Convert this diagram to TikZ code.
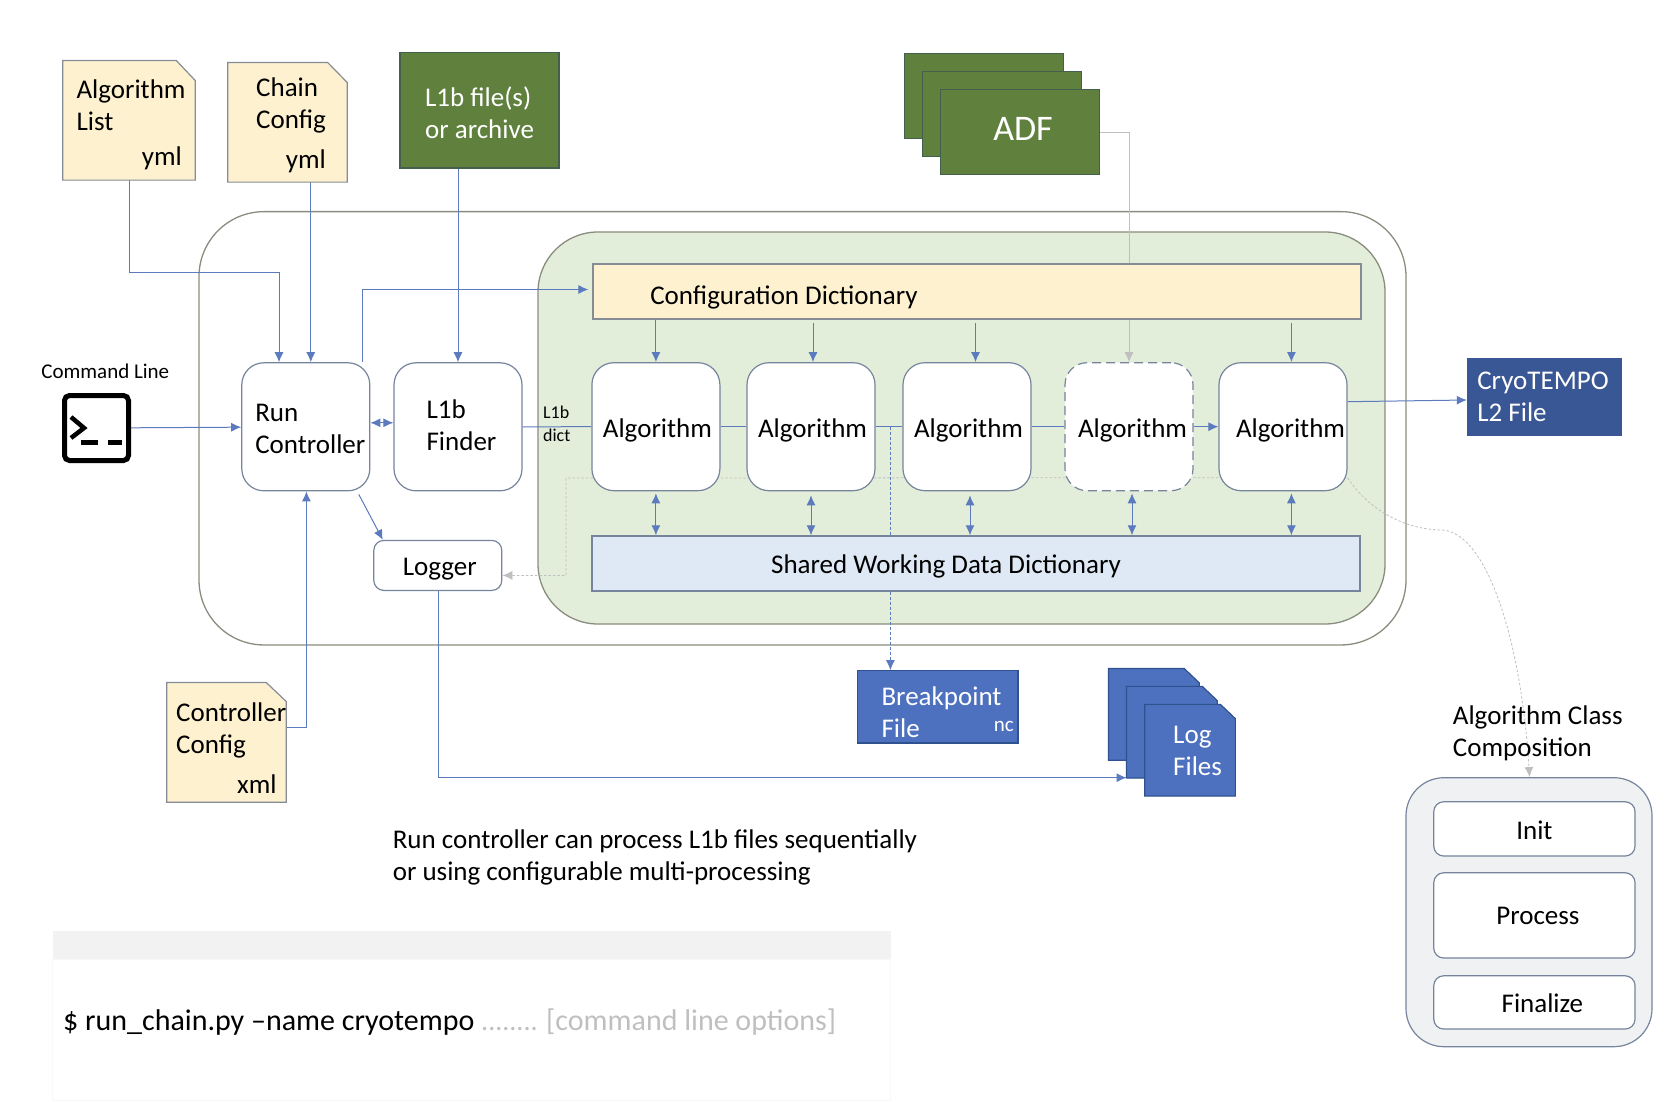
\documentclass[tikz,border=0pt]{standalone}
\usepackage{fontspec}
\setmainfont{Carlito}
\usetikzlibrary{arrows.meta}
\pgfdeclarelayer{back}
\pgfdeclarelayer{wires}
\pgfsetlayers{back,wires,main}
\definecolor{wireblue}{HTML}{5B7BBE}
\definecolor{boxline}{HTML}{76849C}
\definecolor{docline}{HTML}{868C96}
\definecolor{wallline}{HTML}{8A8D7E}
\definecolor{softgrey}{HTML}{BFBFBF}
\definecolor{creamfill}{HTML}{FDF1CF}
\definecolor{greenfill}{HTML}{E3EEDA}
\definecolor{leaf}{HTML}{60803E}
\definecolor{leafline}{HTML}{43604F}
\definecolor{paleblue}{HTML}{DFE9F5}
\definecolor{midblue}{HTML}{4D71BE}
\definecolor{midline}{HTML}{2F528F}
\definecolor{navy}{HTML}{3A5795}
\definecolor{classfill}{HTML}{F0F1F3}
\definecolor{barfill}{HTML}{F2F2F2}
\definecolor{panelline}{HTML}{F8F8F8}
\newcommand{\bodyfont}{\fontsize{27}{32}\selectfont}
\newcommand{\tagfont}{\fontsize{21}{24}\selectfont}
\newcommand{\dictfont}{\fontsize{18}{22.7}\selectfont}
\newcommand{\cmdfont}{\fontsize{30}{32}\selectfont}
% sheet with a folded top right corner, drawn round an empty node
\newcommand{\foldsheet}[4]{\draw[#2] (#1.north west) -- ([xshift=-#3pt]#1.north east) -- ([yshift=-#4pt]#1.north east) -- (#1.south east) -- (#1.south west) -- cycle;}
\tikzset{>={Latex[length=10pt,width=9pt]}}
\tikzset{
  every node/.style={font=\bodyfont,inner sep=0pt,align=left},
  procbox/.style={draw=boxline,line width=1.2pt,fill=white,rounded corners=22pt,minimum width=128pt,minimum height=128pt},
  algobox/.style={procbox,text height=28pt,text depth=6.2pt},
  wall/.style={draw=wallline,line width=1.3pt,rounded corners=#1},
  dictbox/.style={draw=docline,line width=1.3pt,minimum width=768pt,minimum height=55pt},
  docbox/.style={minimum width=119pt,minimum height=119.3pt},
  docsheet/.style={draw=docline,line width=1.2pt,fill=creamfill},
  leafbox/.style={draw=leafline,line width=1.2pt,fill=leaf,text=white,minimum width=158.3pt,minimum height=85pt},
  logbox/.style={minimum width=90.3pt,minimum height=91.3pt},
  logpage/.style={draw=midline,line width=1.2pt,fill=midblue},
  stepbox/.style={draw=boxline,line width=1.2pt,fill=white,rounded corners=10pt,minimum width=201.3pt},
  link/.style={draw=wireblue,line width=1pt},
  greylink/.style={draw=softgrey,line width=1pt},
  greydot/.style={draw=softgrey,line width=.8pt,dash pattern=on 2.5pt off 2pt}
}
\begin{document}
\begin{tikzpicture}[x=1pt,y=-1pt]
\useasboundingbox (0,0) rectangle (1676,1102);
% containers
\begin{pgfonlayer}{back}
\node[wall=65pt,fill=white,minimum width=1207pt,minimum height=433.3pt] (outer) at (802.5,428.3) {};
\node[wall=60pt,fill=greenfill,minimum width=847pt,minimum height=392pt] (inner) at (961.5,428) {};
\end{pgfonlayer}
% inputs
\node[docbox,minimum width=132pt] (list) at (129,120.3) {};
\foldsheet{list}{docsheet}{19}{20}
\node (listname) at (76.3,105) [anchor=west] {Algorithm\\List};
\node (listext) at (182,158) [anchor=east] {yml};
\node[docbox] (chain) at (287.5,122.3) {};
\foldsheet{chain}{docsheet}{19.6}{20}
\node (chainname) at (256,105) [anchor=west] {Chain\\Config};
\node (chainext) at (326,161) [anchor=east] {yml};
\node[docbox] (ctrlcfg) at (226.5,742.3) {};
\foldsheet{ctrlcfg}{docsheet}{20}{19}
\node (ctrlname) at (176,730) [anchor=west] {Controller\\Config};
\node (ctrlext) at (276.8,784) [anchor=east] {xml};
\node[leafbox,minimum width=159pt,minimum height=115.3pt,text height=57pt] (l1bfile) at (479.5,110.3) {L1b file(s)\\or archive};
\node[leafbox] (adfa) at (984,96.2) {};
\node[leafbox] (adfb) at (1002,114.2) {};
\node[leafbox,font=\fontsize{36}{40}\selectfont,text height=17pt] (adfc) at (1020,132.2) {\hspace*{6pt}ADF};
\node (cmdname) at (105.3,371) [font=\tagfont] {Command Line};
\node[draw=black,line width=5pt,rounded corners=5pt,minimum width=64pt,minimum height=65pt] (term) at (96.5,428) {};
\draw[line width=4.5pt] (71,417) -- (84,428) -- (71,438);
\draw[line width=4.5pt] (81,442.7) -- (98,442.7);
\draw[line width=4.5pt] (107.5,442.7) -- (122,442.7);
% chain
\node[procbox,text height=53pt] (rc) at (305.8,426.8) {Run\\Controller\hspace*{-9pt}};
\node[procbox,text height=47pt] (finder) at (458,426.8) {L1b\\Finder\hspace*{-7pt}};
\node[procbox,minimum height=50pt,rounded corners=10pt,text height=26pt,text depth=6.2pt] (logger) at (437.8,565.4) {\hspace*{4pt}Logger};
\node[dictbox,fill=creamfill,text height=32pt,text depth=6.8pt] (cfg) at (977,291.5) {Configuration Dictionary\hspace*{386pt}};
\node[dictbox,fill=paleblue,draw=boxline,text height=26pt,text depth=6.8pt] (shared) at (976,563.4) {Shared Working Data Dictionary\hspace*{60pt}};
\node[algobox] (algoa) at (655.9,426.7) {\hspace*{3pt}Algorithm};
\node[algobox] (algob) at (811,426.7) {\hspace*{3pt}Algorithm};
\node[algobox] (algoc) at (967,426.7) {\hspace*{3pt}Algorithm};
\node[algobox,dashed,dash pattern=on 9pt off 5pt] (algod) at (1129,426.7) {\hspace*{7pt}Algorithm};
\node[algobox] (algoe) at (1283,426.7) {\hspace*{15pt}Algorithm};
\node (dictname) at (556.7,424) [font=\dictfont] {L1b\\dict};
% outputs
\node[draw=navy,fill=navy,text=white,minimum width=154pt,minimum height=76.7pt] (cryo) at (1544,396.4) {CryoTEMPO\hspace*{2pt}\\L2 File};
\node[draw=midline,line width=1.2pt,fill=midblue,minimum width=160.3pt,minimum height=72.3pt] (bpfile) at (937.9,706.9) {};
\node (bpname) at (881.3,712) [anchor=west,text=white] {Breakpoint\\File};
\node (bpext) at (1014,726) [anchor=east,text=white,font=\tagfont] {nc};
\node[logbox] (loga) at (1153.9,714.4) {};
\foldsheet{loga}{logpage}{15}{14.3}
\node[logbox] (logb) at (1171.9,732.2) {};
\foldsheet{logb}{logpage}{15}{14.3}
\node[logbox] (logc) at (1190,750.2) {};
\foldsheet{logc}{logpage}{15}{14.3}
\node (logname) at (1173,751) [anchor=west,text=white] {Log\\Files};
% class composition
\node (classname) at (1452.7,733.7) [anchor=west] {Algorithm Class\\Composition};
\node[draw=boxline,line width=1.2pt,fill=classfill,rounded corners=38pt,minimum width=246pt,minimum height=269pt] (class) at (1529,912.2) {};
\node[stepbox,minimum height=54.3pt,text height=22pt] (init) at (1534.4,828.9) {Init};
\node[stepbox,minimum height=85.3pt,text height=18pt] (process) at (1534.4,915.4) {\hspace*{7pt}Process};
\node[stepbox,minimum height=53.3pt,text height=20pt] (finalize) at (1534.4,1002.4) {\hspace*{16pt}Finalize};
% notes
\node (note) at (392.6,857) [anchor=west] {Run controller can process L1b files sequentially\\or using configurable multi-processing};
\node[fill=barfill,minimum width=838pt,minimum height=28.5pt] (bar) at (471.6,945.2) {};
\node[draw=panelline,line width=1pt,minimum width=838pt,minimum height=141pt] (panel) at (471.6,1030) {};
\node (cmd) at (63,1022) [anchor=west,font=\cmdfont] {\$ run\_chain.py –name cryotempo \textcolor{softgrey}{{\fontsize{28}{32}\selectfont ........}\hspace{8.5pt}[command line options]}};
% connectors
\coordinate (listbend) at (279,272);
\coordinate (logbend) at (566,478);
\coordinate (bptap) at (890.4,426.7);
\coordinate (curvemid) at (1443,530);
\begin{pgfonlayer}{wires}
\draw[link,->] (list.south) |- (listbend) -- (listbend |- rc.north);
\draw[link,->] ([xshift=5pt]rc.north |- chain.south) -- ([xshift=5pt]rc.north);
\draw[link,->] (finder.north |- l1bfile.south) -- (finder.north);
\draw[link,->] ([xshift=57pt]rc.north) |- ([xshift=-4pt,yshift=2pt]cfg.west);
\draw[link,->] (term) -- (rc);
\draw[link,<->] ([yshift=4pt]rc.east) -- ([yshift=4pt]finder.west);
\draw[link,->] ([xshift=53pt,yshift=-3pt]rc.south) -- ([xshift=-55pt]logger.north);
\draw[link,->] ([yshift=15pt]ctrlcfg.east) -| ([xshift=.6pt]rc.south);
\draw[link,->] ([xshift=1pt]logger.south) |- ([yshift=-45.5pt]logb.west);
\draw[link] (finder) -- (algoa);
\draw[link] (algoa) -- (algob);
\draw[link] (algob) -- (algoc);
\draw[link] (algoc) -- (algod);
\draw[link,->] (algod) -- (algoe);
\draw[link,->] (cfg.south -| algoa.north) -- (algoa.north);
\draw[link,->] ([xshift=2pt,yshift=-3pt]cfg.south -| algob.north) -- ([xshift=2pt]algob.north);
\draw[link,->] ([xshift=8.5pt,yshift=-3pt]cfg.south -| algoc.north) -- ([xshift=8.5pt]algoc.north);
\draw[link,->] ([xshift=8.4pt,yshift=-3pt]cfg.south -| algoe.north) -- ([xshift=8.4pt]algoe.north);
\draw[greylink,->] (adfc.east) -| (algod.north);
\draw[link,<->] ([yshift=-2pt]algoa.south) -- (shared.north -| algoa.south);
\draw[link,<->] ([yshift=-4pt]algob.south) -- (shared.north -| algob.south);
\draw[link,<->] ([xshift=3pt,yshift=-4pt]algoc.south) -- ([xshift=3pt]shared.north -| algoc.south);
\draw[link,<->] ([xshift=3pt,yshift=-2pt]algod.south) -- ([xshift=3pt]shared.north -| algod.south);
\draw[link,<->] ([xshift=8.4pt,yshift=-2pt]algoe.south) -- ([xshift=8.4pt]shared.north -| algoe.south);
\draw[link,line width=.8pt,dash pattern=on 3pt off 2pt,->] (bptap) -- (bpfile.north -| bptap);
\draw[link,->] ([yshift=25pt]algoe.east) -- ([yshift=-3.6pt]cryo.west);
\draw[greydot,->] ([yshift=-51pt]algoe.west) -- (logbend) |- ([yshift=-10pt]logger.east);
\draw[greydot,->] ([yshift=-51pt]algoe.east) .. controls (1365,505) and (1400,530) .. (curvemid) .. controls (1490,535) and (1522,650) .. ([xshift=.5pt]class.north);
\end{pgfonlayer}
\end{tikzpicture}
\end{document}
